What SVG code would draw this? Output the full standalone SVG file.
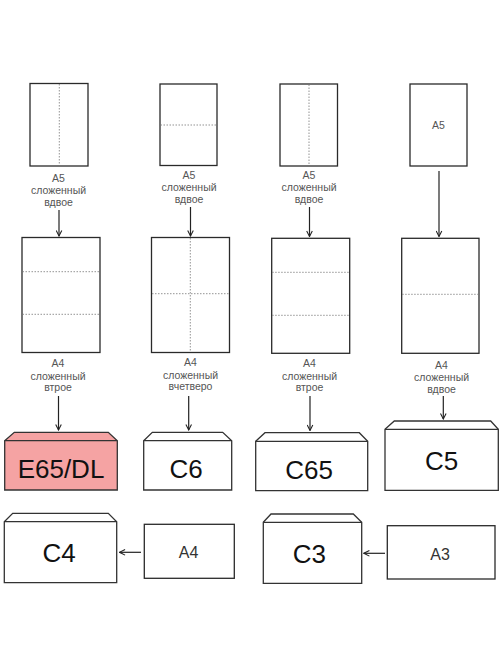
<svg xmlns="http://www.w3.org/2000/svg" width="502" height="669" viewBox="0 0 502 669">
<defs>
<style>
.sheet{fill:#fff;stroke:#2a2a2a;stroke-width:1.3}
.fold{stroke:#777;stroke-width:0.8;stroke-dasharray:1.5 1.5;fill:none}
.lbl{font-family:"Liberation Sans",Arial,sans-serif;font-size:10.5px;fill:#555;text-anchor:middle}
.env{fill:#fff;stroke:#333;stroke-width:1.3;stroke-linejoin:miter}
.envp{fill:#f5a3a3;stroke:#333;stroke-width:1.3}
.big{font-family:"Liberation Sans",Arial,sans-serif;font-size:26px;fill:#111;text-anchor:middle}
.mid{font-family:"Liberation Sans",Arial,sans-serif;font-size:16px;fill:#333;text-anchor:middle}
.conn{stroke:#222;stroke-width:1.2;fill:none;marker-end:url(#ah)}
</style>
<marker id="ah" viewBox="0 0 10 10" refX="9" refY="5" markerWidth="7" markerHeight="7" markerUnits="userSpaceOnUse" orient="auto">
<path d="M1,1 L9,5 L1,9" fill="none" stroke="#222" stroke-width="1.5"/>
</marker>
</defs>
<rect width="502" height="669" fill="#fff"/>

<g id="a5-1">
<rect class="sheet" x="30" y="83.5" width="58" height="82.5"/>
<line class="fold" x1="59.3" y1="84" x2="59.3" y2="165.5"/>
<text class="lbl" x="58.5" y="182">A5</text>
<text class="lbl" x="58.5" y="194">сложенный</text>
<text class="lbl" x="58.5" y="206">вдвое</text>
</g>
<g id="a5-2">
<rect class="sheet" x="160" y="84" width="57" height="81.5"/>
<line class="fold" x1="160.5" y1="125" x2="216.5" y2="125"/>
<text class="lbl" x="189" y="179">A5</text>
<text class="lbl" x="189" y="191">сложенный</text>
<text class="lbl" x="189" y="203">вдвое</text>
</g>
<g id="a5-3">
<rect class="sheet" x="280" y="84" width="57.5" height="82"/>
<line class="fold" x1="309" y1="84.5" x2="309" y2="165.5"/>
<text class="lbl" x="309" y="179">A5</text>
<text class="lbl" x="309" y="191">сложенный</text>
<text class="lbl" x="309" y="203">вдвое</text>
</g>
<g id="a5-4">
<rect class="sheet" x="410" y="84" width="57" height="82"/>
<text class="lbl" x="438.5" y="129">A5</text>
</g>

<g id="a4-1">
<rect class="sheet" x="22" y="237.5" width="78" height="115"/>
<line class="fold" x1="22.5" y1="271.7" x2="99.5" y2="271.7"/>
<line class="fold" x1="22.5" y1="314.3" x2="99.5" y2="314.3"/>
<text class="lbl" x="58" y="367">A4</text>
<text class="lbl" x="58" y="379.5">сложенный</text>
<text class="lbl" x="58" y="391">втрое</text>
</g>
<g id="a4-2">
<rect class="sheet" x="151.5" y="237.5" width="78" height="115"/>
<line class="fold" x1="190.3" y1="238" x2="190.3" y2="352"/>
<line class="fold" x1="152" y1="293.7" x2="229" y2="293.7"/>
<text class="lbl" x="190.5" y="366">A4</text>
<text class="lbl" x="190.5" y="378.5">сложенный</text>
<text class="lbl" x="190.5" y="390">вчетверо</text>
</g>
<g id="a4-3">
<rect class="sheet" x="271.7" y="238.3" width="78" height="115"/>
<line class="fold" x1="272.2" y1="272.3" x2="349.2" y2="272.3"/>
<line class="fold" x1="272.2" y1="315.3" x2="349.2" y2="315.3"/>
<text class="lbl" x="309.5" y="367">A4</text>
<text class="lbl" x="309.5" y="379.5">сложенный</text>
<text class="lbl" x="309.5" y="391">втрое</text>
</g>
<g id="a4-4">
<rect class="sheet" x="401.7" y="238.3" width="77.3" height="115"/>
<line class="fold" x1="402.2" y1="294.3" x2="478.5" y2="294.3"/>
<text class="lbl" x="441.5" y="369">A4</text>
<text class="lbl" x="441.5" y="381">сложенный</text>
<text class="lbl" x="441.5" y="393">вдвое</text>
</g>

<g id="env-e65">
<path class="envp" d="M4.7,440.7 L14.3,432.3 L108.3,432.3 L117.3,440.7 L117.3,490 L4.7,490 Z"/>
<line x1="4.7" y1="440.7" x2="117.3" y2="440.7" stroke="#333" stroke-width="1.3"/>
<text class="big" x="61" y="477.5">E65/DL</text>
</g>
<g id="env-c6">
<path class="env" d="M143.7,440.7 L152.3,432.3 L222.7,432.3 L231.7,440.7 L231.7,490 L143.7,490 Z"/>
<line x1="143.7" y1="440.7" x2="231.7" y2="440.7" stroke="#333" stroke-width="1.3"/>
<text class="big" x="186" y="477.5">C6</text>
</g>
<g id="env-c65">
<path class="env" d="M255.7,441.3 L265,432.7 L359.3,432.7 L367.7,441.3 L367.7,490.7 L255.7,490.7 Z"/>
<line x1="255.7" y1="441.3" x2="367.7" y2="441.3" stroke="#333" stroke-width="1.3"/>
<text class="big" x="309" y="478.5">C65</text>
</g>
<g id="env-c5">
<path class="env" d="M385,429.3 L394.3,421 L490.7,421 L498.3,429.3 L498.3,490.3 L385,490.3 Z"/>
<line x1="385" y1="429.3" x2="498.3" y2="429.3" stroke="#333" stroke-width="1.3"/>
<text class="big" x="441.7" y="469.5">C5</text>
</g>
<g id="env-c4">
<path class="env" d="M4.3,521.7 L12.7,513.3 L108.3,513.3 L116.7,521.7 L116.7,582.7 L4.3,582.7 Z"/>
<line x1="4.3" y1="521.7" x2="116.7" y2="521.7" stroke="#333" stroke-width="1.3"/>
<text class="big" x="59" y="561.5">C4</text>
</g>
<g id="sheet-a4">
<rect class="sheet" x="144.3" y="524.3" width="90" height="54"/>
<text class="mid" x="188.5" y="558">A4</text>
</g>
<g id="env-c3">
<path class="env" d="M263.3,522.3 L271,514 L353.3,514 L361.7,522.3 L361.7,583.3 L263.3,583.3 Z"/>
<line x1="263.3" y1="522.3" x2="361.7" y2="522.3" stroke="#333" stroke-width="1.3"/>
<text class="big" x="309.3" y="563">C3</text>
</g>
<g id="sheet-a3">
<rect class="sheet" x="387.3" y="525.7" width="107.7" height="53.3"/>
<text class="mid" x="440" y="559.5">A3</text>
</g>

<g id="connectors">
<line class="conn" x1="59" y1="210" x2="59" y2="236"/>
<line class="conn" x1="190.5" y1="207" x2="190.5" y2="236"/>
<line class="conn" x1="309.5" y1="207" x2="309.5" y2="236.5"/>
<line class="conn" x1="439" y1="171" x2="439" y2="236.5"/>
<line class="conn" x1="58.5" y1="396" x2="58.5" y2="430"/>
<line class="conn" x1="188.7" y1="396" x2="188.7" y2="430"/>
<line class="conn" x1="310" y1="396" x2="310" y2="430.5"/>
<line class="conn" x1="443.3" y1="396" x2="443.3" y2="419"/>
<line class="conn" x1="141" y1="552.3" x2="119.5" y2="552.3"/>
<line class="conn" x1="385" y1="553.3" x2="363.8" y2="553.3"/>
</g>
</svg>
